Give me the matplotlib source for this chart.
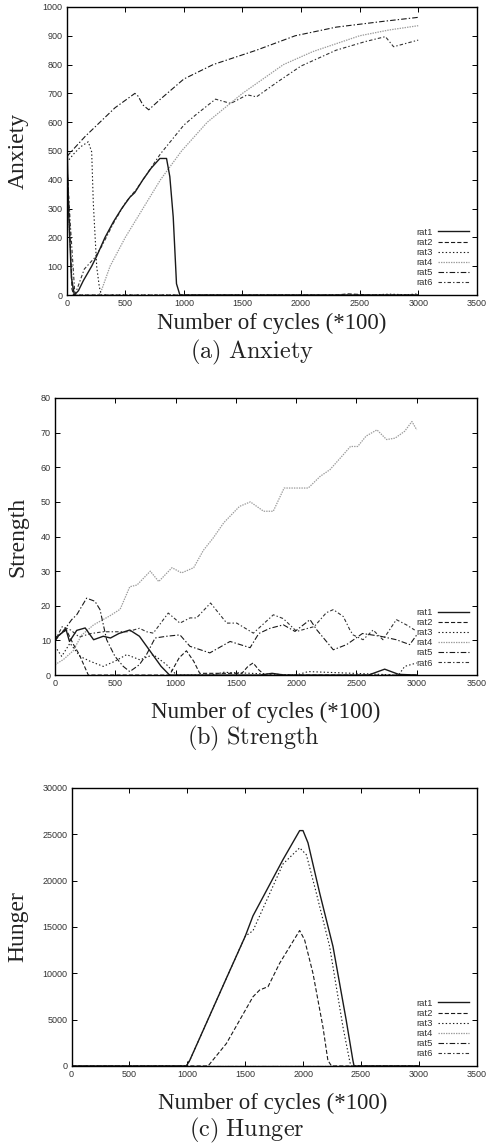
import matplotlib
matplotlib.use('Agg')
import matplotlib.pyplot as plt

plt.rcParams['lines.scale_dashes'] = False
plt.rcParams['mathtext.fontset'] = 'cm'

# ---------------- data ----------------
rats = ['rat1', 'rat2', 'rat3', 'rat4', 'rat5', 'rat6']

# (a) Anxiety
anx_x1 = [0, 15, 40, 65, 100, 142, 213, 256, 327, 400, 469, 540, 580, 650, 720, 795, 852, 880, 909, 937, 966, 1000, 3000]
anx_y1 = [600, 300, 60, 0, 15, 50, 100, 135, 200, 255, 300, 340, 355, 400, 440, 474, 474, 411, 271, 39, 0, 0, 0]
anx_x2 = [0, 20, 45, 60, 2300, 2400, 2500, 2600, 3000]
anx_y2 = [480, 300, 20, 0, 0, 4, 2, 0, 0]
anx_x3 = [0, 60, 120, 184, 213, 227, 256, 278, 295, 2600, 2750, 2900, 3000]
anx_y3 = [460, 490, 515, 532, 497, 319, 98, 29, 0, 0, 3, 1, 4]
anx_x4 = [0, 25, 55, 275, 300, 370, 500, 650, 800, 980, 1200, 1500, 1850, 2100, 2500, 2750, 3000]
anx_y4 = [420, 200, 0, 0, 20, 100, 200, 300, 400, 500, 600, 700, 800, 845, 900, 920, 935]
anx_x5 = [0, 43, 156, 284, 412, 582, 610, 650, 700, 800, 1000, 1250, 1620, 1950, 2300, 2700, 3000]
anx_y5 = [480, 500, 550, 600, 650, 700, 690, 660, 643, 680, 750, 800, 850, 900, 930, 950, 964]
anx_x6 = [0, 30, 70, 150, 240, 300, 400, 500, 600, 700, 800, 900, 1000, 1100, 1270, 1400, 1540, 1620, 1800, 2000, 2300, 2550, 2720, 2790, 3000]
anx_y6 = [470, 250, 0, 90, 130, 170, 250, 320, 370, 430, 490, 540, 590, 625, 680, 665, 695, 688, 740, 795, 850, 880, 897, 862, 885]

# (b) Strength
str_x1 = [0, 70, 90, 120, 180, 250, 320, 400, 460, 530, 620, 700, 760, 820, 880, 950, 1700, 1800, 1900, 2600, 2734, 2850, 3000]
str_y1 = [10.7, 12.5, 13.3, 9.7, 12.9, 13.6, 10.2, 11.2, 10.7, 12, 13, 11.2, 8.3, 5.4, 2.5, 0, 0, 0.5, 0, 0, 1.7, 0.2, 0]
str_x2 = [0, 50, 95, 150, 200, 276, 950, 1030, 1090, 1150, 1200, 1550, 1600, 1643, 1690, 1740, 3000]
str_y2 = [10, 12, 13, 9, 6, 0, 0, 5, 7, 4, 0.5, 0.5, 2.5, 3.5, 1.5, 0, 0]
str_x3 = [0, 55, 124, 207, 290, 400, 497, 594, 704, 815, 925, 1008, 1300, 1400, 2000, 2100, 2850, 2900, 3000]
str_y3 = [8.3, 5.4, 9.2, 5.4, 4, 2.5, 4, 5.9, 4.4, 5.9, 3, 0, 0, 0.8, 0, 1, 0, 2.5, 3.5]
str_x4 = [0, 70, 150, 220, 320, 450, 540, 620, 680, 790, 860, 970, 1050, 1150, 1230, 1310, 1400, 1530, 1620, 1730, 1810, 1900, 2100, 2200, 2280, 2390, 2450, 2510, 2580, 2670, 2750, 2820, 2900, 2960, 3000]
str_y4 = [3, 4.5, 7, 11.5, 14.5, 17, 19, 25.5, 26, 30, 27, 31, 29.5, 31, 36, 39.5, 44, 48.7, 50, 47.3, 47.3, 54, 54, 57.4, 59.3, 63.6, 66, 66, 69, 70.8, 68, 68.4, 70.4, 73.2, 70.8]
str_x5 = [0, 97, 138, 180, 262, 331, 373, 428, 497, 566, 620, 700, 760, 830, 925, 1036, 1119, 1284, 1452, 1535, 1618, 1690, 1783, 1894, 1990, 2115, 2170, 2308, 2419, 2550, 2700, 2831, 2942, 3000]
str_y5 = [10, 14, 16, 17.4, 22.2, 21.3, 18.9, 10.2, 5.4, 2.5, 1, 3, 6, 10.7, 11.2, 11.6, 8.3, 6.4, 9.7, 8.8, 7.9, 12, 13.5, 14.5, 12.6, 16, 13.1, 7.3, 8.8, 12, 11.2, 10.2, 8.8, 11.6]
str_x6 = [0, 60, 130, 200, 300, 400, 500, 600, 700, 760, 815, 939, 1036, 1119, 1174, 1290, 1424, 1507, 1645, 1811, 1893, 2004, 2150, 2250, 2308, 2391, 2446, 2472, 2555, 2638, 2720, 2831, 2914, 2983]
str_y6 = [10, 14, 13, 11, 12, 12.5, 12.5, 12.5, 13.5, 12.5, 12.1, 17.9, 15, 16.5, 16.5, 20.8, 15, 15, 12.1, 17.4, 16.3, 12.6, 14, 18, 18.9, 16.9, 13, 11.6, 10.2, 13, 10.2, 16, 14.5, 13]

# (c) Hunger
hun_x1 = [0, 992, 1021, 1337, 1500, 1567, 1826, 1970, 1999, 2042, 2143, 2258, 2372, 2430, 2440, 3000]
hun_y1 = [0, 0, 614, 9460, 14000, 16200, 22270, 25400, 25400, 24080, 18660, 12890, 4950, 600, 0, 0]
hun_x2 = [0, 1179, 1337, 1567, 1625, 1697, 1797, 1970, 2013, 2085, 2171, 2214, 2245, 3000]
hun_y2 = [0, 0, 2420, 7470, 8200, 8560, 11080, 14620, 13600, 10000, 4220, 600, 0, 0]
hun_x3 = [0, 992, 1021, 1337, 1500, 1567, 1826, 1970, 2028, 2114, 2229, 2344, 2401, 2412, 3000]
hun_y3 = [0, 0, 614, 9460, 14000, 14600, 21800, 23540, 22800, 18660, 12890, 4220, 600, 0, 0]
hun_x4 = [0, 3000]
hun_y4 = [0, 0]
hun_x5 = [0, 3000]
hun_y5 = [0, 0]
hun_x6 = [0, 3000]
hun_y6 = [0, 0]

styles = [
    dict(color='#1a1a1a', ls='-', lw=1.0),
    dict(color='#1a1a1a', ls=(0, (3, 1.5)), lw=0.8),
    dict(color='#1a1a1a', ls=(0, (1, 1.6)), lw=0.8),
    dict(color='#9a9a9a', ls=(0, (1, 0.8)), lw=0.9),
    dict(color='#1a1a1a', ls=(0, (4, 1.5, 1, 1.5)), lw=0.8),
    dict(color='#333333', ls=(0, (2.5, 1.5, 1, 1.5)), lw=0.8),
]

panels = [
    dict(rect=[0.137, 0.7419, 0.842, 0.2520], ylim=(0, 1000), ystep=100, ylabel='Anxiety',
         series=[(anx_x1, anx_y1), (anx_x2, anx_y2), (anx_x3, anx_y3), (anx_x4, anx_y4), (anx_x5, anx_y5), (anx_x6, anx_y6)],
         xl_y=323, xl_x=272, cap='(a)\\ Anxiety', cap_y=352, cap_x=252, yl_y=151),
    dict(rect=[0.113, 0.4094, 0.8665, 0.2424], ylim=(0, 80), ystep=10, ylabel='Strength',
         series=[(str_x1, str_y1), (str_x2, str_y2), (str_x3, str_y3), (str_x4, str_y4), (str_x5, str_y5), (str_x6, str_y6)],
         xl_y=712, xl_x=266, cap='(b)\\ Strength', cap_y=738, cap_x=253, yl_y=537),
    dict(rect=[0.147, 0.0674, 0.832, 0.2432], ylim=(0, 30000), ystep=5000, ylabel='Hunger',
         series=[(hun_x1, hun_y1), (hun_x2, hun_y2), (hun_x3, hun_y3), (hun_x4, hun_y4), (hun_x5, hun_y5), (hun_x6, hun_y6)],
         xl_y=1103, xl_x=273, cap='(c)\\ Hunger', cap_y=1130, cap_x=247, yl_y=927),
]

W, H = 487, 1143
fig = plt.figure(figsize=(W / 100, H / 100), dpi=100)

for p in panels:
    ax = fig.add_axes(p['rect'])
    # draw in reverse so rat1 ends on top
    for i in reversed(range(6)):
        x, y = p['series'][i]
        ax.plot(x, y, label=rats[i], **styles[i])
    ax.set_xlim(0, 3500)
    ax.set_ylim(*p['ylim'])
    ax.set_xticks(range(0, 3501, 500))
    ax.set_yticks(range(0, p['ylim'][1] + 1, p['ystep']))
    ax.tick_params(direction='in', top=True, right=True, length=3.5, width=0.7,
                   labelsize=6.5, labelcolor='#333333', pad=3)
    for lab in ax.get_xticklabels() + ax.get_yticklabels():
        lab.set_family('Liberation Sans')
    for s in ax.spines.values():
        s.set_linewidth(1.0)
    handles, labels = ax.get_legend_handles_labels()
    leg = ax.legend(handles[::-1], labels[::-1], loc='lower right', frameon=False,
                    markerfirst=False, handlelength=3.3, handletextpad=0.6,
                    labelspacing=0.12, borderaxespad=0.5, borderpad=0.3,
                    prop={'family': 'Liberation Sans', 'size': 6.8})
    for t in leg.get_texts():
        t.set_color('#333333')

    fig.text(p['xl_x'] / W, 1 - p['xl_y'] / H, 'Number of cycles (*100)', ha='center', va='center',
             family='Liberation Serif', fontsize=16.5, color='#222222')
    fig.text(p['cap_x'] / W, 1 - p['cap_y'] / H, '$\\mathrm{' + p['cap'] + '}$', ha='center', va='center',
             fontsize=17.5, color='#222222')
    fig.text(18 / W, 1 - p['yl_y'] / H, p['ylabel'], ha='center', va='center', rotation=90,
             family='Liberation Serif', fontsize=17, color='#222222')

fig.savefig('out.png', dpi=100)
